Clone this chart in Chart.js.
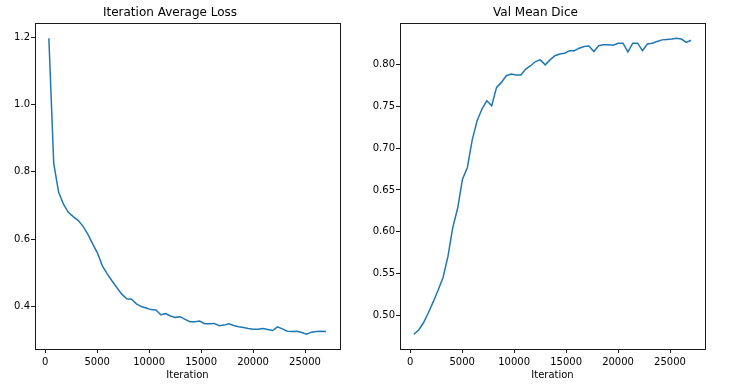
<!DOCTYPE html>
<html>
<head>
<meta charset="utf-8">
<script src="https://cdn.jsdelivr.net/npm/chart.js@4.4.0/dist/chart.umd.min.js"></script>
<style>
body { margin: 0; background: #fff; }
#wrap { position: relative; width: 739px; height: 388px; }
canvas { position: absolute; top: 0; }
</style>
</head>
<body>
<div id="wrap">
  <canvas id="lossChart" width="376" height="388" style="left:0px"></canvas>
  <canvas id="diceChart" width="373" height="388" style="left:366px"></canvas>
</div>
<script>
// iteration at each evaluation point
const iterations = [355, 823, 1291, 1759, 2227, 2695, 3163, 3631, 4099, 4567,
  5035, 5503, 5971, 6439, 6907, 7375, 7843, 8311, 8779, 9247,
  9715, 10183, 10651, 11119, 11587, 12055, 12523, 12991, 13459, 13927,
  14395, 14863, 15331, 15799, 16267, 16735, 17203, 17671, 18139, 18607,
  19075, 19543, 20011, 20479, 20947, 21415, 21883, 22351, 22819, 23287,
  23755, 24223, 24691, 25159, 25627, 26095, 26563, 27031];

const lossValues = [1.197, 0.825, 0.740, 0.704, 0.680, 0.667, 0.656, 0.639, 0.615, 0.586,
  0.559, 0.521, 0.497, 0.476, 0.456, 0.437, 0.423, 0.422, 0.408, 0.400,
  0.396, 0.391, 0.390, 0.376, 0.379, 0.372, 0.368, 0.370, 0.362, 0.355,
  0.355, 0.357, 0.349, 0.349, 0.350, 0.343, 0.345, 0.349, 0.344, 0.340,
  0.338, 0.335, 0.333, 0.333, 0.335, 0.332, 0.329, 0.340, 0.334, 0.327,
  0.326, 0.327, 0.323, 0.318, 0.324, 0.326, 0.327, 0.326];

const diceValues = [0.477, 0.482, 0.491, 0.503, 0.516, 0.530, 0.545, 0.570, 0.605, 0.628,
  0.663, 0.677, 0.710, 0.733, 0.747, 0.757, 0.751, 0.773, 0.779, 0.787,
  0.789, 0.788, 0.788, 0.795, 0.799, 0.804, 0.806, 0.800, 0.806, 0.811,
  0.813, 0.814, 0.817, 0.817, 0.820, 0.822, 0.8225, 0.816, 0.823, 0.824,
  0.824, 0.8235, 0.826, 0.826, 0.8155, 0.826, 0.826, 0.817, 0.825, 0.826,
  0.828, 0.830, 0.8305, 0.831, 0.832, 0.831, 0.827, 0.8295];

const xTicks = [0, 5000, 10000, 15000, 20000, 25000];
const lossTicks = [0.4, 0.6, 0.8, 1.0, 1.2];
const diceTicks = [0.50, 0.55, 0.60, 0.65, 0.70, 0.75, 0.80];

Chart.defaults.font.family = "'DejaVu Sans', sans-serif";
Chart.defaults.font.size = 10;
Chart.defaults.color = '#000';

// box around the plot area, like matplotlib spines
const framePlugin = {
  id: 'frame',
  afterDraw(chart) {
    var a = chart.chartArea;
    var ctx = chart.ctx;
    var l = Math.floor(a.left) + 0.5, r = Math.floor(a.right) + 0.5;
    var t = Math.floor(a.top) + 0.5, b = Math.floor(a.bottom) + 0.5;
    ctx.save();
    ctx.strokeStyle = '#1a1a1a';
    ctx.lineWidth = 1;
    ctx.strokeRect(l, t, r - l, b - t);
    ctx.restore();
  }
};

function buildChart(canvasId, title, values, yTicks, decimals, yWidth, padRight) {
  var points = iterations.map((it, i) => ({ x: it, y: values[i] }));
  var xMin = Math.min(...iterations), xMax = Math.max(...iterations);
  var yMin = Math.min(...values), yMax = Math.max(...values);
  var xm = (xMax - xMin) * 0.05, ym = (yMax - yMin) * 0.05;

  var tickGrid = { drawOnChartArea: false, drawTicks: true, tickLength: 4, color: '#1a1a1a', lineWidth: 1 };

  return new Chart(document.getElementById(canvasId).getContext('2d'), {
    type: 'line',
    data: {
      datasets: [{
        data: points,
        borderColor: '#1f77b4',
        borderWidth: 1.5,
        pointRadius: 0,
        tension: 0,
        fill: false
      }]
    },
    options: {
      responsive: false,
      animation: false,
      devicePixelRatio: 1,
      layout: { padding: { left: 0, right: padRight, top: 0, bottom: 0 } },
      plugins: {
        legend: { display: false },
        tooltip: { enabled: false },
        title: {
          display: true,
          text: title,
          color: '#000',
          font: { size: 12, weight: 'normal' },
          padding: { top: 6, bottom: 3 }
        }
      },
      scales: {
        x: {
          type: 'linear',
          min: xMin - xm,
          max: xMax + xm,
          grid: tickGrid,
          border: { display: false },
          afterBuildTicks: s => { s.ticks = xTicks.map(v => ({ value: v })); },
          afterFit: s => { s.height = 39; },
          ticks: { padding: 3, maxRotation: 0, color: '#000', callback: v => String(v) },
          title: { display: true, text: 'Iteration', color: '#000', font: { size: 10 }, padding: { top: 0, bottom: 7 } }
        },
        y: {
          type: 'linear',
          min: yMin - ym,
          max: yMax + ym,
          grid: tickGrid,
          border: { display: false },
          afterBuildTicks: s => { s.ticks = yTicks.map(v => ({ value: v })); },
          afterFit: s => { s.width = yWidth; },
          ticks: { padding: 1, color: '#000', callback: v => v.toFixed(decimals) }
        }
      }
    },
    plugins: [framePlugin]
  });
}

buildChart('lossChart', 'Iteration Average Loss', lossValues, lossTicks, 1, 35, 36);
buildChart('diceChart', 'Val Mean Dice', diceValues, diceTicks, 2, 34, 34);
</script>
</body>
</html>
